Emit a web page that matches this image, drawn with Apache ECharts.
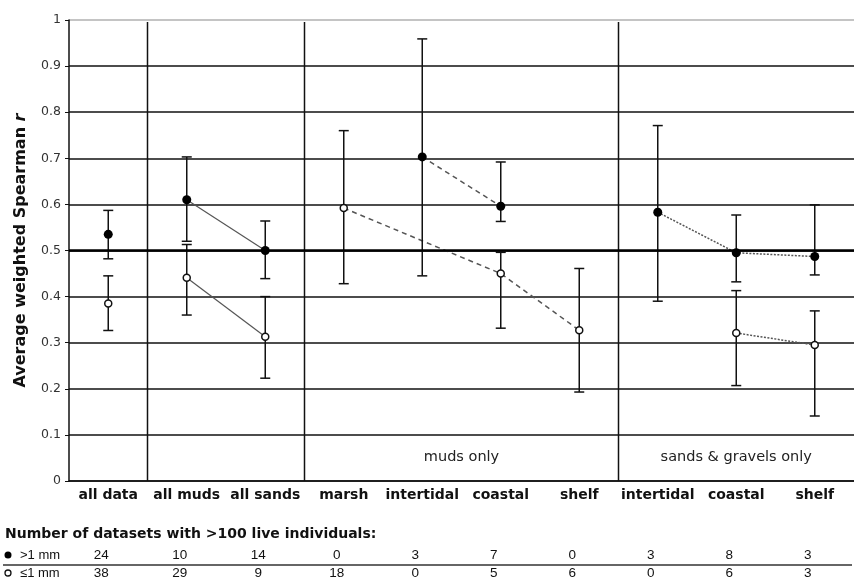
<!DOCTYPE html>
<html>
<head>
<meta charset="utf-8">
<script src="https://cdn.jsdelivr.net/npm/echarts@6/dist/echarts.min.js"></script>
<style>html,body{margin:0;padding:0;background:#fff;}#c{width:854px;height:579px;}</style>
</head>
<body>
<div id="c"></div>
<script>
// ---- data ----
const categories = ['all data','all muds','all sands','marsh','intertidal','coastal','shelf','intertidal','coastal','shelf'];
const yTicks = [0,0.1,0.2,0.3,0.4,0.5,0.6,0.7,0.8,0.9,1];
// > 1 mm (filled)
const bigMean = [0.535,0.61,0.50,null,0.703,0.596,null,0.583,0.495,0.487];
const bigLow  = [0.482,0.52,0.439,null,0.445,0.563,null,0.39,0.432,0.447];
const bigHigh = [0.587,0.703,0.564,null,0.959,0.692,null,0.771,0.577,0.599];
// <= 1 mm (open)
const smallMean = [0.385,0.441,0.313,0.592,null,0.45,0.327,null,0.321,0.295];
const smallLow  = [0.3265,0.36,0.223,0.428,null,0.3315,0.193,null,0.207,0.141];
const smallHigh = [0.445,0.513,0.40,0.76,null,0.496,0.461,null,0.413,0.369];
// counts
const bigN   = [24,10,14,0,3,7,0,3,8,3];
const smallN = [38,29,9,18,0,5,6,0,6,3];
// groups (category indices) for connecting lines
const groupMuds = [1,2];
const groupMudOnly = [3,4,5,6];
const groupSands = [7,8,9];
const separators = [1,3,7];
const tableTitle = 'Number of datasets with >100 live individuals:';

// ---- chart ----
const chart = echarts.init(document.getElementById('c'));
const mask = (arr, idx) => arr.map((v,i)=> idx.includes(i) ? v : null);
const errData = (lo, hi) => lo.map((v,i)=> v==null ? null : [i, v, hi[i]]).filter(d=>d);

function errItem(params, api){
  const x = api.value(0);
  const lo = api.coord([x, api.value(1)]);
  const hi = api.coord([x, api.value(2)]);
  const w = 5;
  const st = {stroke:'#111', lineWidth:1.5};
  return {type:'group', children:[
    {type:'line', shape:{x1:lo[0],y1:lo[1],x2:hi[0],y2:hi[1]}, style:st},
    {type:'line', shape:{x1:lo[0]-w,y1:lo[1],x2:lo[0]+w,y2:lo[1]}, style:st},
    {type:'line', shape:{x1:hi[0]-w,y1:hi[1],x2:hi[0]+w,y2:hi[1]}, style:st}
  ]};
}
function sepItem(params, api){
  const i = api.value(0);
  const b = api.coord([i, 0]);
  const t = api.coord([i, 1]);
  const bw = api.size([1,0])[0];
  const x = b[0] - bw/2;
  return {type:'line', shape:{x1:x,y1:t[1]+2,x2:x,y2:b[1]}, style:{stroke:'#111', lineWidth:1.5}};
}
function lineSeries(arr, idx, type){
  return {type:'line', data:mask(arr, idx), connectNulls:true, symbol:'none', silent:true, z:3,
    lineStyle:{color:'#555', width: type==='solid'?1.2:1.5, type: type==='solid'?'solid':(type==='dashed'?[5,4]:[2,1.5])}};
}
const gridColors = yTicks.map(v => v===1 ? '#b0b0b0' : '#111');

const option = {
  animation:false,
  grid:{left:69, right:-8, top:20, bottom:98},
  xAxis:{type:'category', data:categories,
    axisLine:{lineStyle:{color:'#111', width:1.5}},
    axisTick:{length:5, lineStyle:{color:'#111', width:1.2}},
    axisLabel:{interval:0, color:'#111', fontFamily:'DejaVu Sans', fontWeight:'bold', fontSize:14, margin:7},
    splitLine:{show:false}},
  yAxis:{type:'value', min:0, max:1, interval:0.1,
    axisLine:{show:true, lineStyle:{color:'#111', width:1.5}},
    axisTick:{show:true, length:4, lineStyle:{color:'#111'}},
    axisLabel:{color:'#333', fontFamily:'DejaVu Sans', fontSize:12.5, margin:8},
    splitLine:{show:true, lineStyle:{color:gridColors, width:1.5}},
    name:'{a|Average weighted Spearman }{b|r}', nameLocation:'middle', nameGap:40,
    nameTextStyle:{rich:{
      a:{fontFamily:'DejaVu Sans', fontWeight:'bold', fontSize:16, color:'#111'},
      b:{fontFamily:'DejaVu Sans', fontWeight:'bold', fontStyle:'italic', fontSize:16, color:'#111'}}}
  },
  series:[
    {type:'custom', renderItem:sepItem, data:separators.map(i=>[i]), silent:true, z:1,
      markLine:{silent:true, symbol:'none', label:{show:false}, data:[{yAxis:0.5}], lineStyle:{color:'#000', width:2.6, type:'solid'}}},
    lineSeries(bigMean, groupMuds, 'solid'),
    lineSeries(smallMean, groupMuds, 'solid'),
    lineSeries(bigMean, groupMudOnly, 'dashed'),
    lineSeries(smallMean, groupMudOnly, 'dashed'),
    lineSeries(bigMean, groupSands, 'dotted'),
    lineSeries(smallMean, groupSands, 'dotted'),
    {type:'custom', renderItem:errItem, data:errData(bigLow, bigHigh), silent:true, z:4},
    {type:'custom', renderItem:errItem, data:errData(smallLow, smallHigh), silent:true, z:4},
    {type:'scatter', data:bigMean.map((v,i)=>[i,v]).filter(d=>d[1]!=null), symbol:'circle', symbolSize:9, z:6,
      itemStyle:{color:'#000', borderWidth:0, opacity:1}},
    {type:'scatter', data:smallMean.map((v,i)=>[i,v]).filter(d=>d[1]!=null), symbol:'circle', symbolSize:7, z:6,
      itemStyle:{color:'#fff', borderColor:'#111', borderWidth:1.5, opacity:1}}
  ]
};
chart.setOption(option);

// ---- annotations & table (positions from the axes) ----
const px = i => chart.convertToPixel({gridIndex:0}, [i, 0])[0];
const py = v => chart.convertToPixel({gridIndex:0}, [0, v])[1];
const numStyle = {fontFamily:'Liberation Sans', fontSize:13.5, fill:'#111', align:'center', verticalAlign:'middle'};
const g = [];
g.push({type:'text', x:(px(3)+px(6))/2, y:py(0.051), style:{text:'muds only', fontFamily:'DejaVu Sans', fontSize:14.5, fill:'#222', align:'center', verticalAlign:'middle'}});
g.push({type:'text', x:px(8), y:py(0.051), style:{text:'sands & gravels only', fontFamily:'DejaVu Sans', fontSize:14.5, fill:'#222', align:'center', verticalAlign:'middle'}});
g.push({type:'text', x:5, y:534, style:{text:tableTitle, fontFamily:'DejaVu Sans', fontWeight:'bold', fontSize:14, fill:'#111', align:'left', verticalAlign:'middle'}});
g.push({type:'circle', shape:{cx:8, cy:555, r:3.5}, style:{fill:'#000'}});
g.push({type:'text', x:20, y:555, style:{text:'>1 mm', fontFamily:'Liberation Sans', fontSize:13, fill:'#111', align:'left', verticalAlign:'middle'}});
g.push({type:'line', shape:{x1:3, y1:565, x2:852, y2:565}, style:{stroke:'#333', lineWidth:1.5}});
g.push({type:'circle', shape:{cx:8, cy:573, r:3}, style:{fill:'#fff', stroke:'#111', lineWidth:1.3}});
g.push({type:'text', x:20, y:573, style:{text:'\u22641 mm', fontFamily:'Liberation Sans', fontSize:13, fill:'#111', align:'left', verticalAlign:'middle'}});
categories.forEach((c,i)=>{
  const x = px(i) - 7;
  g.push({type:'text', x:x, y:555, style:Object.assign({text:String(bigN[i])}, numStyle)});
  g.push({type:'text', x:x, y:573, style:Object.assign({text:String(smallN[i])}, numStyle)});
});
chart.setOption({graphic:g});
</script>
</body>
</html>
